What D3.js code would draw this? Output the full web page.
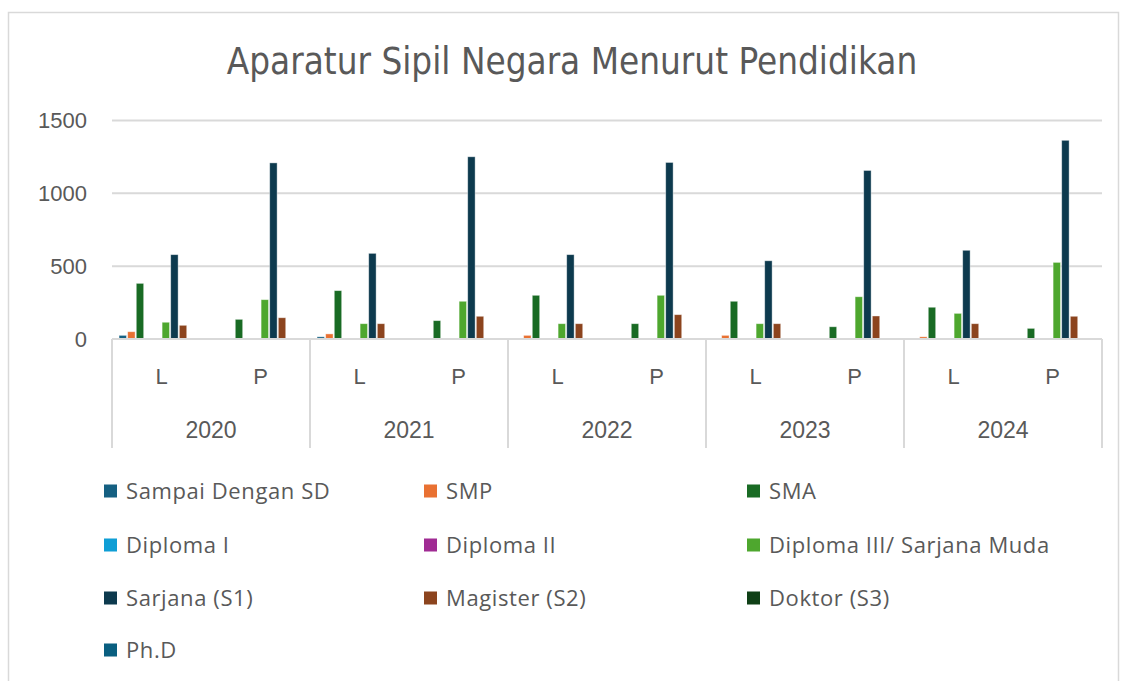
<!DOCTYPE html>
<html>
<head>
<meta charset="utf-8">
<script src="https://cdn.jsdelivr.net/npm/d3@7"></script>
<style>
  body { margin: 0; background: #fff; }
  svg { display: block; }
</style>
</head>
<body>
<div id="chart"></div>
<script>
// data
const years = ["2020", "2021", "2022", "2023", "2024"];
const genders = ["L", "P"];
const seriesNames = ["Sampai Dengan SD", "SMP", "SMA", "Diploma I", "Diploma II",
  "Diploma III/ Sarjana Muda", "Sarjana (S1)", "Magister (S2)", "Doktor (S3)", "Ph.D"];
const seriesColors = ["#156082", "#E97132", "#196B24", "#0F9ED5", "#A02B93",
  "#4EA72E", "#0D3A4E", "#8C441E", "#0F4016", "#095F80"];
// values in order 2020 L, 2020 P, 2021 L, 2021 P, ... 2024 P
const sampaiSD = [25, 0, 15, 0, 0, 0, 0, 0, 0, 0];
const smp = [50, 0, 35, 0, 25, 0, 25, 0, 15, 0];
const sma = [382, 135, 332, 126, 300, 105, 259, 84, 218, 73];
const diploma1 = [0, 0, 0, 0, 0, 0, 0, 0, 0, 0];
const diploma2 = [0, 0, 0, 0, 0, 0, 0, 0, 0, 0];
const diploma3 = [115, 270, 105, 259, 105, 300, 105, 290, 176, 526];
const sarjana = [579, 1209, 588, 1251, 579, 1212, 537, 1157, 609, 1364];
const magister = [94, 146, 105, 156, 105, 167, 105, 158, 105, 156];
const doktor = [0, 0, 0, 0, 0, 0, 0, 0, 0, 0];
const phd = [0, 0, 0, 0, 0, 0, 0, 0, 0, 0];
const yTicks = [0, 500, 1000, 1500];

const allValues = [sampaiSD, smp, sma, diploma1, diploma2, diploma3, sarjana, magister, doktor, phd];

const width = 1125, height = 681;
const plot = { left: 112, right: 1102, top: 120.5, bottom: 339 };
const textColor = "#595959";
const lineColor = "#d9d9d9";

const svg = d3.select("#chart").append("svg")
  .attr("width", width)
  .attr("height", height);

// chart frame
svg.append("rect")
  .attr("x", 8.5).attr("y", 12.5)
  .attr("width", 1110).attr("height", 700)
  .attr("fill", "#fff")
  .attr("stroke", lineColor)
  .attr("stroke-width", 1.5);

// title
svg.append("text")
  .attr("x", 572).attr("y", 74)
  .attr("text-anchor", "middle")
  .attr("font-family", "DejaVu Sans Condensed, DejaVu Sans")
  .attr("font-size", 36.5)
  .attr("fill", textColor)
  .text("Aparatur Sipil Negara Menurut Pendidikan");

// scales
const x0 = d3.scaleBand().domain(years).range([plot.left, plot.right]);
const x1 = d3.scaleBand().domain(genders).range([0, x0.bandwidth()]);
const x2 = d3.scaleBand().domain(seriesNames).range([0, x1.bandwidth()])
  .paddingInner(0).paddingOuter(0.75);
const y = d3.scaleLinear().domain([0, 1500]).range([plot.bottom, plot.top]);

// gridlines
svg.append("g")
  .selectAll("line")
  .data(yTicks.filter(d => d > 0))
  .join("line")
  .attr("x1", plot.left).attr("x2", plot.right)
  .attr("y1", d => y(d)).attr("y2", d => y(d))
  .attr("stroke", lineColor)
  .attr("stroke-width", 2);

// y axis labels
const yAxis = svg.append("g")
  .attr("transform", "translate(" + plot.left + ",0)")
  .call(d3.axisLeft(y).tickValues(yTicks).tickFormat(d3.format("d")).tickSize(0).tickPadding(25));
yAxis.select(".domain").remove();
yAxis.selectAll("text")
  .attr("font-family", "Liberation Sans, Arial")
  .attr("font-size", 22)
  .attr("fill", textColor);

// bars
const cells = [];
years.forEach((yr, yi) => {
  genders.forEach((g, gi) => {
    seriesNames.forEach((s, si) => {
      cells.push({ year: yr, gender: g, series: s, color: seriesColors[si], value: allValues[si][yi * 2 + gi] });
    });
  });
});

svg.append("g")
  .selectAll("rect")
  .data(cells.filter(d => d.value > 0))
  .join("rect")
  .attr("x", d => x0(d.year) + x1(d.gender) + x2(d.series) + 0.6)
  .attr("width", x2.bandwidth() - 1.2)
  .attr("y", d => y(d.value))
  .attr("height", d => y(0) - y(d.value))
  .attr("fill", d => d.color)
  .attr("stroke", "#fff")
  .attr("stroke-opacity", 0.5)
  .attr("stroke-width", 0.8);

// category axis: baseline and year dividers
svg.append("line")
  .attr("x1", plot.left).attr("x2", plot.right)
  .attr("y1", y(0)).attr("y2", y(0))
  .attr("stroke", lineColor).attr("stroke-width", 2);

const dividers = years.map(yr => x0(yr)).concat([plot.right]);
svg.append("g")
  .selectAll("line")
  .data(dividers)
  .join("line")
  .attr("x1", d => d).attr("x2", d => d)
  .attr("y1", y(0)).attr("y2", 448)
  .attr("stroke", lineColor).attr("stroke-width", 2);

// L / P labels
const subLabels = [];
years.forEach(yr => genders.forEach(g => subLabels.push({ year: yr, gender: g })));
svg.append("g")
  .selectAll("text")
  .data(subLabels)
  .join("text")
  .attr("x", d => x0(d.year) + x1(d.gender) + x1.bandwidth() / 2)
  .attr("y", 384)
  .attr("text-anchor", "middle")
  .attr("font-family", "Liberation Sans, Arial")
  .attr("font-size", 22)
  .attr("fill", textColor)
  .text(d => d.gender);

// year labels
svg.append("g")
  .selectAll("text")
  .data(years)
  .join("text")
  .attr("x", d => x0(d) + x0.bandwidth() / 2)
  .attr("y", 438)
  .attr("text-anchor", "middle")
  .attr("font-family", "Liberation Sans, Arial")
  .attr("font-size", 23)
  .attr("fill", textColor)
  .text(d => d);

// legend, three columns
const legendCols = [104, 424, 747];
const legendRows = [491, 545, 598, 650];
const legend = svg.append("g")
  .selectAll("g")
  .data(seriesNames)
  .join("g")
  .attr("transform", (d, i) => "translate(" + legendCols[i % 3] + "," + legendRows[Math.floor(i / 3)] + ")");

legend.append("rect")
  .attr("x", 0).attr("y", -6.5)
  .attr("width", 13).attr("height", 13)
  .attr("fill", (d, i) => seriesColors[i]);

legend.append("text")
  .attr("x", 22).attr("y", 8)
  .attr("font-family", "Open Sans, Noto Sans")
  .attr("font-size", 22)
  .attr("letter-spacing", 0.6)
  .attr("fill", textColor)
  .text(d => d);
</script>
</body>
</html>
